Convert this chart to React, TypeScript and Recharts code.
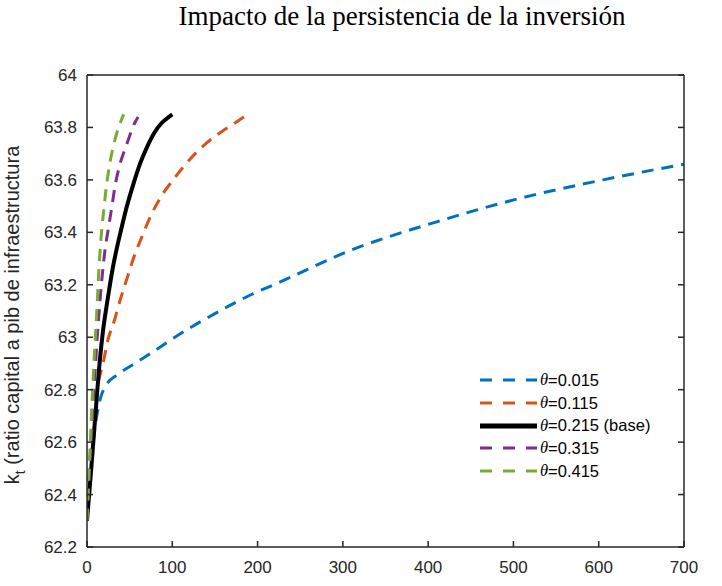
import React from "react";
import { Legend, Line, LineChart, XAxis, YAxis } from "recharts";

// (x, k_t) pairs, one list per theta
const theta015 = [
  [0, 62.3], [4, 62.48], [8, 62.62], [12, 62.71], [16, 62.77], [21, 62.81],
  [37, 62.86], [56, 62.9], [80, 62.95], [103, 63.0], [150, 63.09], [191, 63.16],
  [226, 63.21], [308, 63.33], [410, 63.44], [508, 63.53], [605, 63.6], [700, 63.66],
];
const theta115 = [
  [0, 62.3], [3, 62.47], [6, 62.61], [9, 62.72], [13, 62.82], [18.8, 62.9],
  [24.6, 62.99], [31.7, 63.06], [38.7, 63.14], [46.5, 63.22], [56, 63.315], [64, 63.38],
  [75.8, 63.47], [87.6, 63.54], [101, 63.6], [121, 63.68], [140, 63.74], [156, 63.78],
  [170, 63.81], [184, 63.84],
];
const theta215 = [
  [0, 62.3], [5, 62.5], [10, 62.71], [15, 62.91], [19, 63.03], [23, 63.12],
  [26.4, 63.19], [30, 63.26], [35, 63.34], [40, 63.41], [46, 63.49], [54, 63.58],
  [62, 63.66], [71, 63.73], [79, 63.78], [87, 63.815], [94, 63.835], [100, 63.85],
];
const theta315 = [
  [0, 62.3], [3, 62.5], [6, 62.67], [9, 62.84], [12, 63.0], [15, 63.13],
  [18, 63.24], [21, 63.33], [24.8, 63.41], [28.8, 63.49], [32.8, 63.575], [38.7, 63.66],
  [46.5, 63.735], [56.4, 63.82], [60, 63.84],
];
const theta415 = [
  [0, 62.3], [2, 62.46], [4, 62.61], [6, 62.76], [8, 62.89], [10, 63.01],
  [12, 63.13], [14, 63.26], [16.5, 63.38], [19.5, 63.48], [22.5, 63.57], [26.6, 63.66],
  [32.5, 63.75], [40.5, 63.83], [43, 63.85],
];

const xTicks = [0, 100, 200, 300, 400, 500, 600, 700];
const yTicks = [62.2, 62.4, 62.6, 62.8, 63, 63.2, 63.4, 63.6, 63.8, 64];

const series = [
  { name: "θ=0.015", points: theta015, color: "#0072BD", dash: "12 8", width: 3 },
  { name: "θ=0.115", points: theta115, color: "#D95319", dash: "12 8", width: 3 },
  { name: "θ=0.215 (base)", points: theta215, color: "#000000", dash: undefined, width: 4 },
  { name: "θ=0.315", points: theta315, color: "#7E2F8E", dash: "12 8", width: 3 },
  { name: "θ=0.415", points: theta415, color: "#77AC30", dash: "12 8", width: 3 },
];

const axisColor = "#262626";
const sans = "'Liberation Sans', Arial, Helvetica, sans-serif";
const serif = "'Liberation Serif', 'Times New Roman', serif";
const TICK = 6;

const toRows = (pts: number[][]) => pts.map(([x, y]) => ({ x, y }));

// MATLAB style: tick marks point into the box, labels sit outside
function BottomTick({ x, y, payload }: any) {
  return (
    <g>
      <line x1={x} x2={x} y1={y - 14} y2={y - 14 - TICK} stroke={axisColor} strokeWidth={1.5} />
      <text x={x} y={y} dy="0.71em" textAnchor="middle" fill={axisColor} fontSize={17} fontFamily={sans}>
        {payload.value}
      </text>
    </g>
  );
}

function LeftTick({ x, y, payload }: any) {
  return (
    <g>
      <line x1={x + 10} x2={x + 10 + TICK} y1={y} y2={y} stroke={axisColor} strokeWidth={1.5} />
      <text x={x} y={y} dy="0.355em" textAnchor="end" fill={axisColor} fontSize={17} fontFamily={sans}>
        {payload.value}
      </text>
    </g>
  );
}

function TopTick({ x, y }: any) {
  return <line x1={x} x2={x} y1={y} y2={y + TICK} stroke={axisColor} strokeWidth={1.5} />;
}

function RightTick({ x, y }: any) {
  return <line x1={x} x2={x - TICK} y1={y} y2={y} stroke={axisColor} strokeWidth={1.5} />;
}

function YLabel() {
  return (
    <text
      transform="translate(19, 315) rotate(-90)"
      textAnchor="middle"
      fontFamily={sans}
      fontSize={20}
      fill={axisColor}
    >
      <tspan>k</tspan>
      <tspan dy={6} fontSize={14}>t</tspan>
      <tspan dy={-6}> (ratio capital a pib de infraestructura</tspan>
    </text>
  );
}

function LegendBox(props: any) {
  const payload = props.payload || [];
  return (
    <div style={{ fontFamily: sans, fontSize: 16.5, color: "#000" }}>
      {payload.map((entry: any) => {
        const s = series.find((d) => d.name === entry.value);
        if (!s) return null;
        const label = s.name.replace("θ", "");
        return (
          <div
            key={s.name}
            style={{ display: "flex", alignItems: "center", height: 22.7, whiteSpace: "nowrap" }}
          >
            <svg width={60} height={10} style={{ marginRight: 2 }}>
              <line
                x1={2}
                x2={59}
                y1={5}
                y2={5}
                stroke={s.color}
                strokeWidth={s.dash ? 3 : 5}
                strokeDasharray={s.dash ? "12 11" : undefined}
              />
            </svg>
            <span style={{ fontFamily: serif, fontStyle: "italic" }}>θ</span>
            <span>{label}</span>
          </div>
        );
      })}
    </div>
  );
}

export default function App() {
  return (
    <div style={{ position: "absolute", left: 0, top: 0, width: 722, height: 586, background: "#fff" }}>
      <div
        style={{
          position: "absolute",
          left: 402,
          top: 3,
          transform: "translateX(-50%)",
          whiteSpace: "nowrap",
          fontFamily: serif,
          fontSize: 27,
          lineHeight: "27px",
          color: "#000",
        }}
      >
        Impacto de la persistencia de la inversión
      </div>
      <LineChart width={722} height={586} margin={{ top: 65, right: 28, bottom: 0, left: 0 }}>
        <XAxis
          dataKey="x"
          type="number"
          domain={[0, 700]}
          ticks={xTicks}
          allowDataOverflow
          height={39}
          tickSize={0}
          tickMargin={14}
          tickLine={false}
          stroke={axisColor}
          strokeWidth={1.5}
          tick={<BottomTick />}
        />
        <XAxis
          xAxisId="top"
          orientation="top"
          type="number"
          domain={[0, 700]}
          ticks={xTicks}
          allowDataOverflow
          height={10}
          tickSize={0}
          tickMargin={0}
          tickLine={false}
          tick={<TopTick />}
          stroke={axisColor}
          strokeWidth={1.5}
        />
        <YAxis
          type="number"
          domain={[62.2, 64]}
          ticks={yTicks}
          allowDataOverflow
          width={87}
          tickSize={0}
          tickMargin={10}
          tickLine={false}
          stroke={axisColor}
          strokeWidth={1.5}
          tick={<LeftTick />}
          label={<YLabel />}
        />
        <YAxis
          yAxisId="right"
          orientation="right"
          type="number"
          domain={[62.2, 64]}
          ticks={yTicks}
          allowDataOverflow
          width={10}
          tickSize={0}
          tickMargin={0}
          tickLine={false}
          tick={<RightTick />}
          stroke={axisColor}
          strokeWidth={1.5}
        />
        <Legend
          layout="horizontal"
          verticalAlign="middle"
          align="center"
          wrapperStyle={{ left: 478, top: 369, width: 200 }}
          content={<LegendBox />}
        />
        {series.map((s) => (
          <Line
            key={s.name}
            name={s.name}
            data={toRows(s.points)}
            dataKey="y"
            type="monotone"
            stroke={s.color}
            strokeWidth={s.width}
            strokeDasharray={s.dash}
            dot={false}
            activeDot={false}
            isAnimationActive={false}
          />
        ))}
      </LineChart>
    </div>
  );
}
